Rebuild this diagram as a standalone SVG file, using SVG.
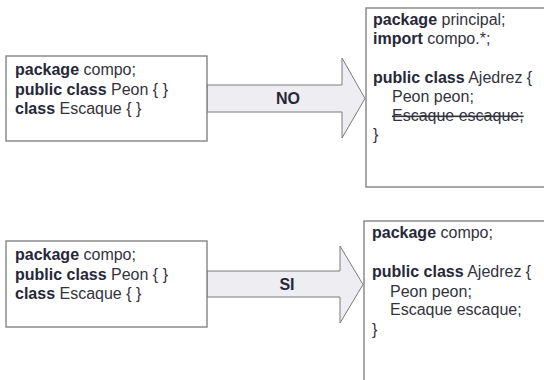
<svg xmlns="http://www.w3.org/2000/svg" width="544" height="380" viewBox="0 0 544 380">
<style>
.box{fill:#ffffff;stroke:#7a7a7a;stroke-width:1.3}
.arrow{fill:#eeeef2;stroke:#7a7a7a;stroke-width:1}
text{font-family:"Liberation Sans",Arial,sans-serif;font-size:16px;fill:#33333d}
.b{font-weight:bold;fill:#26283a}
.lbl{font-weight:bold;font-size:16px;fill:#26283a;text-anchor:middle}
.strike{text-decoration:line-through}
</style>
<rect width="544" height="380" fill="#ffffff"/>
<g id="connectors">
<g id="arrow-no">
<polygon class="arrow" points="207,85 342,85 342,58 365,98.5 342,138 342,112 207,112"/>
<text class="lbl" x="288" y="104">NO</text>
</g>
<g id="arrow-si">
<polygon class="arrow" points="207,271 340,271 340,246 363,284.5 340,323 340,297 207,297"/>
<text class="lbl" x="287" y="290">SI</text>
</g>
</g>
<g id="node-compo-top">
<rect class="box" x="6" y="56" width="201" height="85"/>
<text x="15" y="75"><tspan class="b">package</tspan> compo;</text>
<text x="15" y="95"><tspan class="b">public class</tspan> Peon { }</text>
<text x="15" y="114"><tspan class="b">class</tspan> Escaque { }</text>
</g>
<g id="node-principal">
<rect class="box" x="366" y="8" width="190" height="179"/>
<text x="373" y="25"><tspan class="b">package</tspan> principal;</text>
<text x="373" y="44"><tspan class="b">import</tspan> compo.*;</text>
<text x="373" y="83"><tspan class="b">public class</tspan> Ajedrez {</text>
<text x="392" y="102">Peon peon;</text>
<text x="392" y="121" class="strike">Escaque escaque;</text>
<text x="373" y="140">}</text>
</g>
<g id="node-compo-bottom">
<rect class="box" x="6" y="241" width="201" height="86"/>
<text x="15" y="260"><tspan class="b">package</tspan> compo;</text>
<text x="15" y="280"><tspan class="b">public class</tspan> Peon { }</text>
<text x="15" y="299"><tspan class="b">class</tspan> Escaque { }</text>
</g>
<g id="node-ajedrez">
<rect class="box" x="364" y="221" width="192" height="170"/>
<text x="372" y="238"><tspan class="b">package</tspan> compo;</text>
<text x="372" y="277"><tspan class="b">public class</tspan> Ajedrez {</text>
<text x="390" y="297">Peon peon;</text>
<text x="390" y="315">Escaque escaque;</text>
<text x="372" y="335">}</text>
</g>
</svg>
